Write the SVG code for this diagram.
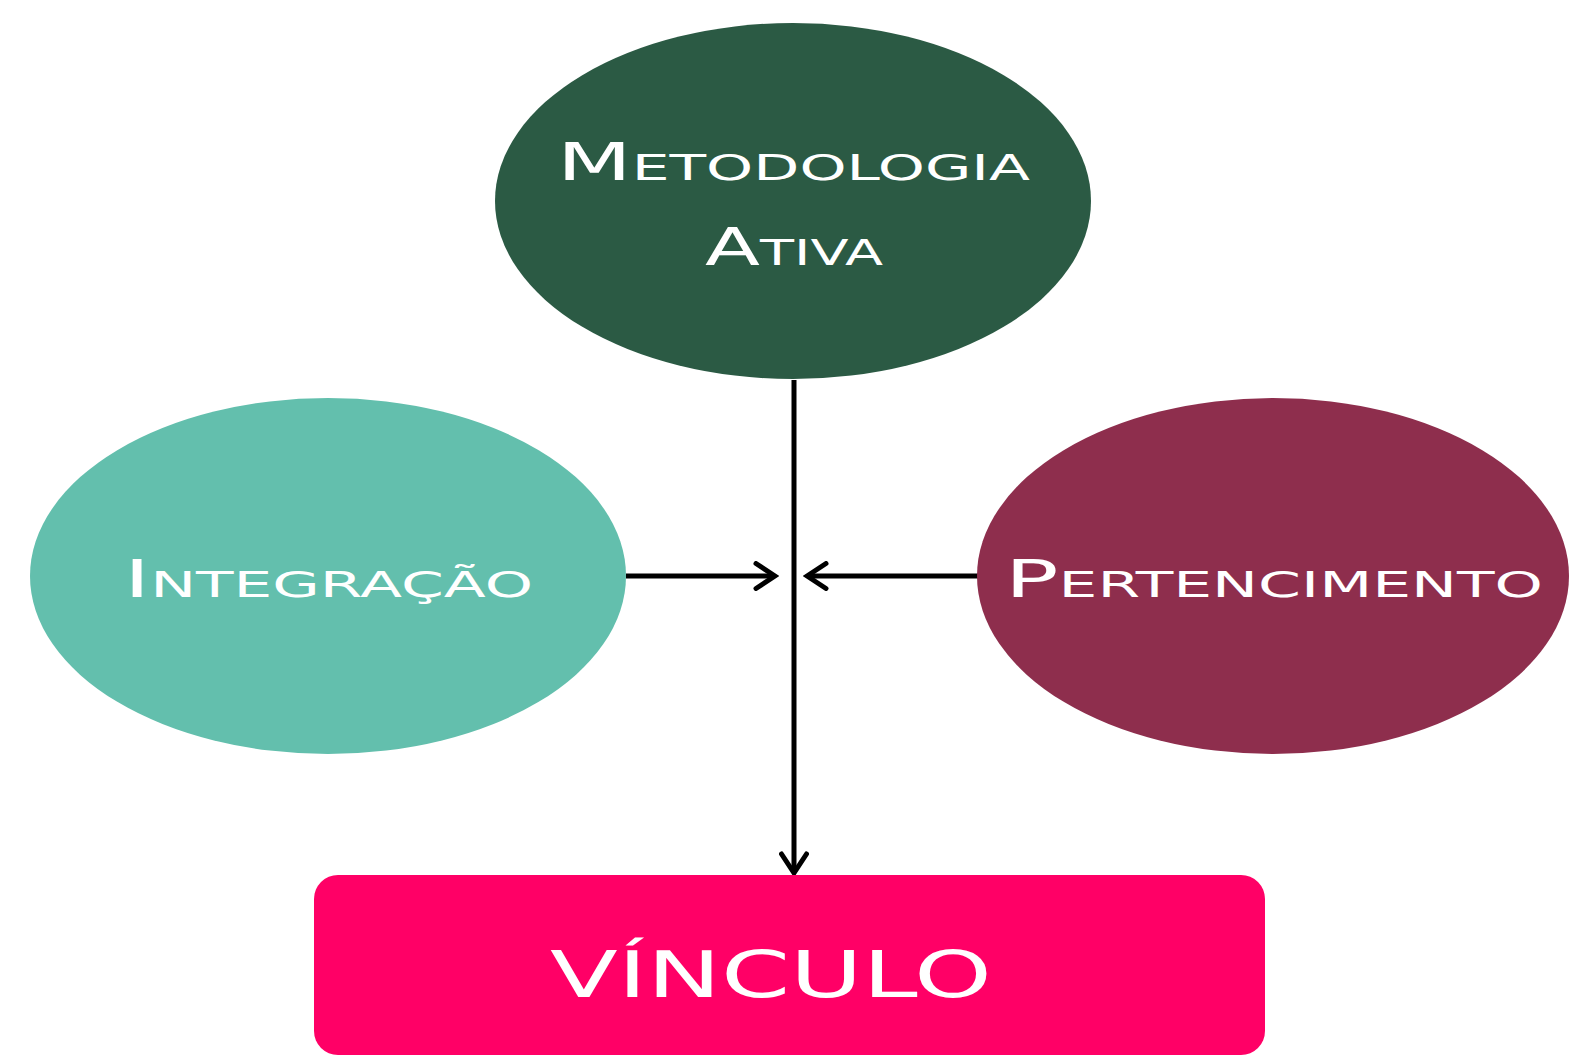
<svg xmlns="http://www.w3.org/2000/svg" width="1571" height="1055" viewBox="0 0 1571 1055">
<style>
.lbl{font-family:"DejaVu Sans","Liberation Sans",sans-serif;fill:#fff;font-variant:small-caps;font-size:52px;}
.big{font-family:"DejaVu Sans","Liberation Sans",sans-serif;fill:#fff;font-size:64px;}
.conn{stroke:#000;stroke-width:5;fill:none;}
</style>
<defs>
<marker id="arr" viewBox="0 0 32 30" refX="28" refY="15" markerWidth="32" markerHeight="30" markerUnits="userSpaceOnUse" orient="auto">
<path d="M9,2.5 L28,15 L9,27.5" fill="none" stroke="#000" stroke-width="5" stroke-linecap="round" stroke-linejoin="miter"/>
</marker>
</defs>
<rect width="1571" height="1055" fill="#fff"/>
<g id="connectors">
<line class="conn" x1="794" y1="380" x2="794" y2="873" marker-end="url(#arr)"/>
<line class="conn" x1="626" y1="576" x2="775" y2="576" marker-end="url(#arr)"/>
<line class="conn" x1="978" y1="576" x2="807" y2="576" marker-end="url(#arr)"/>
</g>
<g id="metodologia">
<ellipse cx="793" cy="201" rx="298" ry="178" fill="#2B5A44"/>
<text class="lbl" x="557" y="180" textLength="473" lengthAdjust="spacingAndGlyphs">Metodologia</text>
<text class="lbl" x="705" y="265" textLength="178" lengthAdjust="spacingAndGlyphs">Ativa</text>
</g>
<g id="integracao">
<ellipse cx="328" cy="576" rx="298" ry="178" fill="#63BFAD"/>
<text class="lbl" x="124" y="597" textLength="409" lengthAdjust="spacingAndGlyphs">Integração</text>
</g>
<g id="pertencimento">
<ellipse cx="1273" cy="576" rx="296" ry="178" fill="#8E2E4D"/>
<text class="lbl" x="1005" y="597" textLength="538" lengthAdjust="spacingAndGlyphs">Pertencimento</text>
</g>
<g id="vinculo">
<rect x="314" y="875" width="951" height="180" rx="24" fill="#FF0066"/>
<text class="big" x="550" y="997" textLength="442" lengthAdjust="spacingAndGlyphs">VÍNCULO</text>
</g>
</svg>
